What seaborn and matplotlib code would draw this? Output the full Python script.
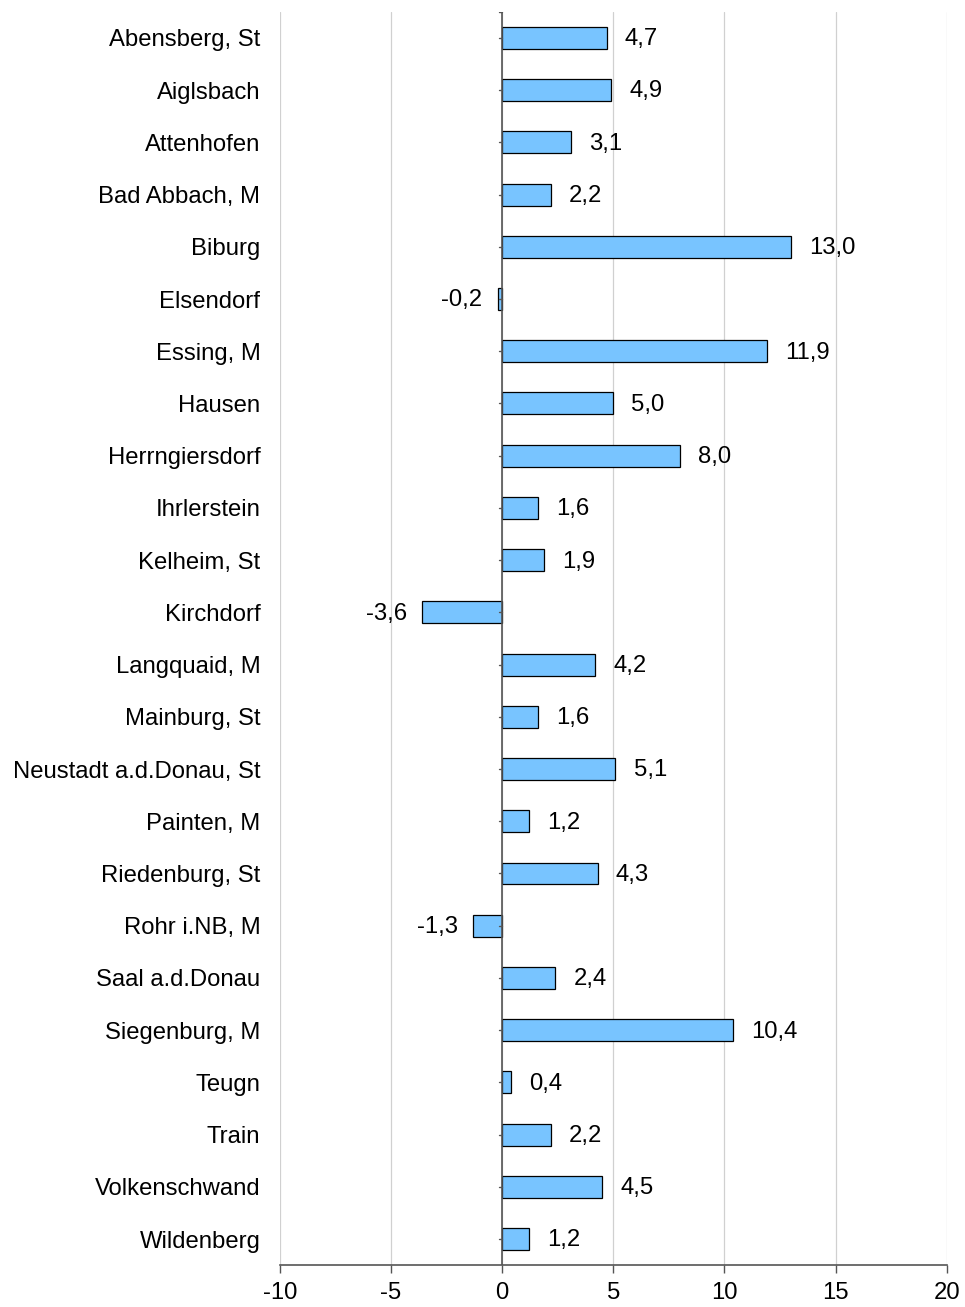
import matplotlib
import matplotlib.pyplot as plt
import pandas as pd
import seaborn as sns

matplotlib.use("Agg")

# Gemeinden im Landkreis Kelheim
gemeinden = [
    "Abensberg, St", "Aiglsbach", "Attenhofen", "Bad Abbach, M", "Biburg",
    "Elsendorf", "Essing, M", "Hausen", "Herrngiersdorf", "Ihrlerstein",
    "Kelheim, St", "Kirchdorf", "Langquaid, M", "Mainburg, St",
    "Neustadt a.d.Donau, St", "Painten, M", "Riedenburg, St", "Rohr i.NB, M",
    "Saal a.d.Donau", "Siegenburg, M", "Teugn", "Train", "Volkenschwand",
    "Wildenberg",
]
werte = [
    4.7, 4.9, 3.1, 2.2, 13.0, -0.2, 11.9, 5.0, 8.0, 1.6, 1.9, -3.6, 4.2,
    1.6, 5.1, 1.2, 4.3, -1.3, 2.4, 10.4, 0.4, 2.2, 4.5, 1.2,
]
x_ticks = [-10, -5, 0, 5, 10, 15, 20]

df = pd.DataFrame({"gemeinde": gemeinden, "wert": werte})

sns.set_theme(style="white")
plt.rcParams["font.family"] = ["Liberation Sans", "DejaVu Sans"]
plt.rcParams["text.color"] = "black"
plt.rcParams["xtick.color"] = "black"
plt.rcParams["ytick.color"] = "black"

FS = 17.2

fig = plt.figure(figsize=(9.65, 13.07), dpi=100)
ax = fig.add_axes([0.290, 0.032, 0.691, 0.959])

sns.barplot(data=df, x="wert", y="gemeinde", orient="h", ax=ax,
            color="#78C4FF", saturation=1, width=0.42,
            edgecolor="black", linewidth=0.9, zorder=3)

ax.set_xlim(x_ticks[0], x_ticks[-1])
ax.set_ylim(len(gemeinden) - 0.5, -0.5)
ax.set_xticks(x_ticks)
ax.set_xticklabels([str(t) for t in x_ticks], fontsize=FS)
ax.tick_params(axis="x", bottom=True, direction="out", length=6, width=1,
               color="#555555", labelcolor="black", pad=6)
ax.tick_params(axis="y", length=0, pad=14, labelsize=FS, labelcolor="black")
ax.set_xlabel("")
ax.set_ylabel("")

# vertical grid lines
ax.grid(axis="x", color="#d0d0d0", linewidth=0.9, zorder=0)
ax.set_axisbelow(True)

for side in ["top", "right", "left"]:
    ax.spines[side].set_visible(False)
ax.spines["bottom"].set_color("#555555")
ax.spines["bottom"].set_linewidth(1.2)

# zero line with small category ticks
ax.axvline(0, color="#555555", linewidth=1.2, zorder=4)
for i in range(len(gemeinden)):
    ax.plot([-0.15, 0], [i, i], color="#555555", linewidth=1, zorder=4)
ax.plot([-0.15, 0], [-0.5, -0.5], color="#555555", linewidth=1, zorder=4)

# value labels with German decimal comma
for i, v in enumerate(werte):
    txt = f"{v:.1f}".replace(".", ",")
    if v >= 0:
        ax.annotate(txt, xy=(v, i), xytext=(13, -1), textcoords="offset points",
                    ha="left", va="center", fontsize=FS, color="black")
    else:
        ax.annotate(txt, xy=(v, i), xytext=(-11, -1), textcoords="offset points",
                    ha="right", va="center", fontsize=FS, color="black")

fig.savefig("out.png", dpi=100)
